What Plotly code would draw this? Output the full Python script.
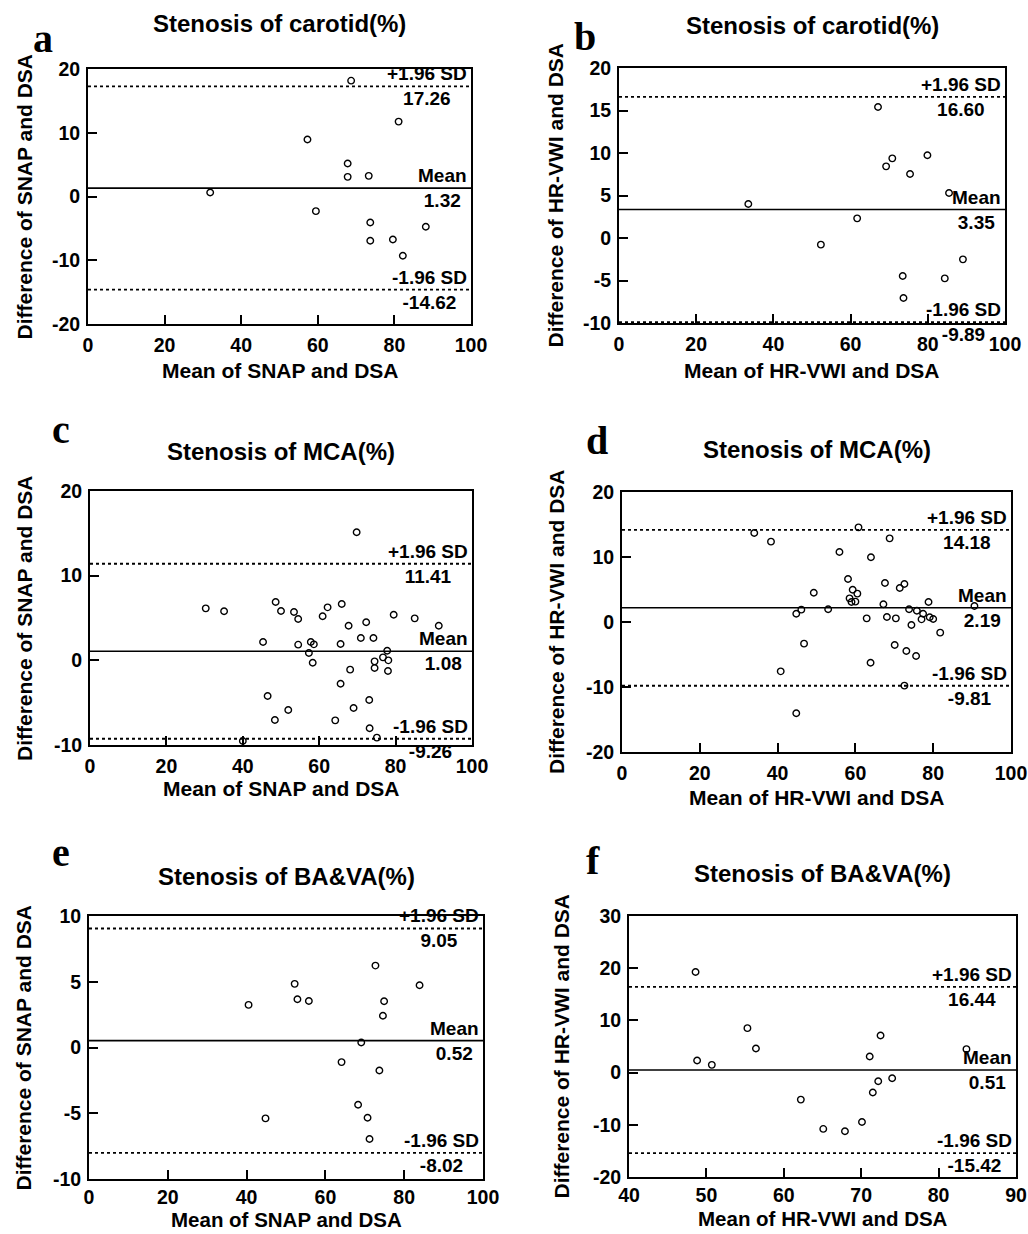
import plotly.graph_objects as go

# ---------------- data ----------------
a_x = [31.9, 68.7, 81.1, 57.3, 67.8, 67.8, 73.3, 59.5, 73.7, 73.7, 79.6, 82.2, 88.2]
a_y = [0.63, 18.17, 11.75, 8.93, 5.17, 3.08, 3.24, -2.30, -4.07, -6.94, -6.74, -9.29, -4.75]

b_x = [33.5, 67.1, 69.2, 70.8, 75.4, 79.9, 85.5, 61.7, 52.3, 73.5, 73.7, 84.4, 89.1]
b_y = [4.00, 15.41, 8.43, 9.37, 7.53, 9.73, 5.29, 2.31, -0.78, -4.47, -7.06, -4.75, -2.51]

c_x = [30.3, 35.1, 45.3, 46.5, 48.6, 48.4, 50.0, 51.9, 53.4, 54.5, 54.5, 57.3, 57.8, 58.6,
       58.3, 60.9, 62.2, 64.2, 65.6, 65.9, 65.6, 67.7, 68.1, 69.0, 69.8, 70.9, 72.3, 73.1,
       73.2, 74.2, 74.5, 74.5, 75.1, 76.7, 77.8, 78.1, 78.0, 79.5, 85.0, 91.3, 40.0]
c_y = [6.14, 5.79, 2.17, -4.21, 6.89, -7.05, 5.83, -5.87, 5.71, 4.88, 1.85, 0.87, 2.17, 1.89,
       -0.28, 5.20, 6.26, -7.09, 1.93, 6.65, -2.76, 4.09, -1.10, -5.63, 15.12, 2.64, 4.49, -4.69,
       -8.03, 2.64, -0.12, -0.91, -9.13, 0.35, 1.14, 0.00, -1.26, 5.39, 4.96, 4.09, -9.53]

d_x = [34.0, 38.3, 40.8, 44.8, 44.8, 46.1, 46.8, 49.3, 53.0, 55.9, 58.1, 58.5, 59.3, 59.0,
       60.0, 60.5, 60.8, 62.9, 64.0, 63.9, 67.2, 67.6, 68.1, 68.8, 70.1, 70.4, 71.4, 72.6,
       72.6, 73.1, 73.8, 74.4, 75.6, 75.8, 77.0, 77.4, 78.8, 79.1, 80.0, 81.8, 90.6]
d_y = [13.69, 12.36, -7.59, 1.28, -14.05, 1.90, -3.33, 4.51, 1.95, 10.77, 6.62, 3.64, 4.97, 3.08,
       3.13, 4.36, 14.56, 0.56, 9.95, -6.26, 2.72, 6.00, 0.77, 12.87, -3.54, 0.56, 5.23, 5.85,
       -9.79, -4.46, 1.95, -0.46, -5.23, 1.74, 0.41, 1.28, 3.08, 0.72, 0.46, -1.64, 2.46]

e_x = [40.5, 44.8, 52.2, 52.9, 55.8, 64.1, 68.3, 69.1, 70.7, 71.2, 72.7, 73.7, 74.6, 74.9, 83.9]
e_y = [3.24, -5.39, 4.84, 3.67, 3.54, -1.11, -4.35, 0.38, -5.34, -6.96, 6.23, -1.75, 2.41, 3.52, 4.73]

f_x = [48.6, 48.8, 50.7, 55.3, 56.4, 62.2, 65.1, 67.9, 70.1, 71.1, 71.5, 72.2, 72.5, 74.0, 83.6]
f_y = [19.26, 2.31, 1.48, 8.52, 4.62, -5.17, -10.79, -11.24, -9.45, 3.08, -3.82, -1.65, 7.11, -1.07, 4.49]

panel_letters = ["a", "b", "c", "d", "e", "f"]
titles = ["Stenosis of carotid(%)", "Stenosis of carotid(%)", "Stenosis of MCA(%)",
          "Stenosis of MCA(%)", "Stenosis of BA&VA(%)", "Stenosis of BA&VA(%)"]
y_titles = ["Difference of SNAP and DSA", "Difference of HR-VWI and DSA",
            "Difference of SNAP and DSA", "Difference of HR-VWI and DSA",
            "Difference of SNAP and DSA", "Difference of HR-VWI and DSA"]
x_titles = ["Mean of SNAP and DSA", "Mean of HR-VWI and DSA",
            "Mean of SNAP and DSA", "Mean of HR-VWI and DSA",
            "Mean of SNAP and DSA", "Mean of HR-VWI and DSA"]
mean_vals = [1.32, 3.35, 1.08, 2.19, 0.52, 0.51]
upper_vals = [17.26, 16.60, 11.41, 14.18, 9.05, 16.44]
lower_vals = [-14.62, -9.89, -9.26, -9.81, -8.02, -15.42]
x_tick_vals = [[0, 20, 40, 60, 80, 100]] * 5 + [[40, 50, 60, 70, 80, 90]]
y_tick_vals = [[-20, -10, 0, 10, 20], [-10, -5, 0, 5, 10, 15, 20], [-10, 0, 10, 20],
               [-20, -10, 0, 10, 20], [-10, -5, 0, 5, 10], [-20, -10, 0, 10, 20, 30]]

xs = [a_x, b_x, c_x, d_x, e_x, f_x]
ys = [a_y, b_y, c_y, d_y, e_y, f_y]

# ---------------- layout geometry (pixels) ----------------
W, H = 1028, 1234
# plot frame: left, right, top, bottom
frames = [(88, 471, 69, 324), (619, 1005, 68, 323),
          (90, 472, 491, 745), (622, 1011, 492, 752),
          (89, 483, 916, 1179), (629, 1016, 916, 1177)]
letter_pos = [(43, 38), (585, 36), (61, 430), (597, 440), (61, 852), (593, 860)]
title_y = [24, 25, 452, 449, 876, 873]
ytitle_x = [24, 555, 24, 556, 23, 561]
xtitle_gap = [46, 47, 43, 45, 40, 41]
xlabel_standoff = [3, 3, 3, 3, 0, 0]
xtitle_size = [21, 21, 21, 21, 20.5, 20.5]

FONT = "Liberation Sans, Arial, sans-serif"


def px(x):
    return x / W


def py(y):
    return 1 - y / H


fig = go.Figure()
layout = dict(width=W, height=H, margin=dict(l=0, r=0, t=0, b=0, pad=0, autoexpand=False),
              paper_bgcolor="white", plot_bgcolor="white", showlegend=False,
              template="none", font=dict(family=FONT, color="black"))
annotations = []
shapes = []

for i in range(6):
    n = i + 1
    sfx = "" if n == 1 else str(n)
    L, R, T, B = frames[i]
    fig.add_trace(go.Scatter(
        x=xs[i], y=ys[i], mode="markers",
        marker=dict(symbol="circle-open", size=6.5, color="black", line=dict(width=1.4, color="black")),
        xaxis="x" + sfx, yaxis="y" + sfx, hoverinfo="x+y"))
    axis_common = dict(showline=True, linecolor="black", linewidth=2, mirror=True,
                       ticks="inside", ticklen=9, tickwidth=1.6, tickcolor="black",
                       showgrid=False, zeroline=False, tickmode="array", automargin=False,
                       ticklabeloverflow="allow",
                       tickfont=dict(family=FONT, size=19.5, color="black", weight=700))
    xv = x_tick_vals[i]
    yv = y_tick_vals[i]
    layout["xaxis" + sfx] = dict(axis_common, domain=[px(L), px(R)], range=[xv[0], xv[-1]],
                                 tickvals=xv, ticktext=[str(v) for v in xv],
                                 anchor="y" + sfx, ticklabelstandoff=xlabel_standoff[i])
    layout["yaxis" + sfx] = dict(axis_common, domain=[py(B), py(T)], range=[yv[0], yv[-1]],
                                 tickvals=yv, ticktext=[str(v) for v in yv],
                                 anchor="x" + sfx, ticklabelstandoff=2)
    xr = "x" + sfx
    yr = "y" + sfx
    # reference lines
    shapes.append(dict(type="line", xref=xr + " domain", yref=yr, x0=0, x1=1,
                       y0=mean_vals[i], y1=mean_vals[i], line=dict(color="black", width=1.6)))
    for v in (upper_vals[i], lower_vals[i]):
        shapes.append(dict(type="line", xref=xr + " domain", yref=yr, x0=0, x1=1,
                           y0=v, y1=v, line=dict(color="black", width=1.8, dash="dot")))
    # line labels
    for lab, v in (("+1.96 SD", upper_vals[i]), ("Mean", mean_vals[i]), ("-1.96 SD", lower_vals[i])):
        annotations.append(dict(xref=xr + " domain", yref=yr, x=1, y=v, xanchor="right",
                                yanchor="middle", xshift=-2, showarrow=False, align="center",
                                text=f"{lab}<br>{v:.2f}",
                                font=dict(family=FONT, size=19, color="black", weight=700)))
    # title
    annotations.append(dict(xref="paper", yref="paper", x=px((L + R) / 2), y=py(title_y[i]),
                            xanchor="center", yanchor="middle", showarrow=False,
                            text=titles[i], font=dict(family=FONT, size=24, color="black", weight=700)))
    # axis titles
    annotations.append(dict(xref="paper", yref="paper", x=px((L + R) / 2), y=py(B + xtitle_gap[i]),
                            xanchor="center", yanchor="middle", showarrow=False,
                            text=x_titles[i],
                            font=dict(family=FONT, size=xtitle_size[i], color="black", weight=700)))
    annotations.append(dict(xref="paper", yref="paper", x=px(ytitle_x[i]), y=py((T + B) / 2),
                            xanchor="center", yanchor="middle", showarrow=False, textangle=-90,
                            text=y_titles[i], font=dict(family=FONT, size=21, color="black", weight=700)))
    # panel letter
    annotations.append(dict(xref="paper", yref="paper", x=px(letter_pos[i][0]), y=py(letter_pos[i][1]),
                            xanchor="center", yanchor="middle", showarrow=False,
                            text=panel_letters[i],
                            font=dict(family="Liberation Serif, Times New Roman, serif", size=40,
                                      color="black", weight=700)))

layout["annotations"] = annotations
layout["shapes"] = shapes
fig.update_layout(**layout)
fig.write_html("out.html", config={"displayModeBar": False},
               post_script="document.body.style.margin='0';document.body.style.overflow='hidden';")
